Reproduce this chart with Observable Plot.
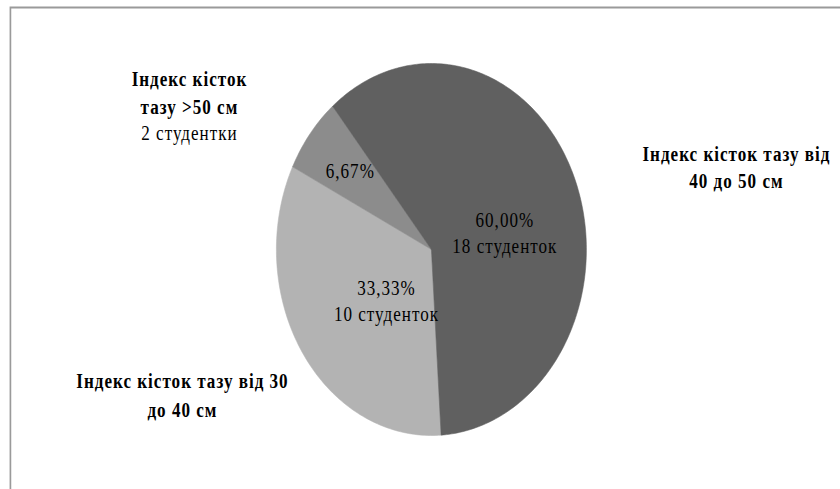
<!DOCTYPE html>
<html><head><meta charset="utf-8">
<script src="https://cdn.jsdelivr.net/npm/d3@7"></script>
<script src="https://cdn.jsdelivr.net/npm/@observablehq/plot@0.6"></script>
<style>
html,body{margin:0;padding:0;overflow:hidden;background:#fff;}
#chart{width:840px;height:489px;overflow:hidden;}
#chart svg{transform:scaleX(0.8333);transform-origin:0 0;display:block;max-width:none !important;height:491px !important;width:1012px !important;}
#chart svg text{letter-spacing:1.2px;}
</style></head><body><div id="chart"></div>
<script>
// ---- data ----
const categories = ["Індекс кісток тазу від 30 до 40 см", "Індекс кісток тазу >50 см", "Індекс кісток тазу від 40 до 50 см"];
const students = [10, 2, 18];
const percentLabels = ["33,33%", "6,67%", "60,00%"];
const countLabels = ["10 студенток", "2 студентки", "18 студенток"];
const outerLines = [["Індекс кісток тазу від 30", "до 40 см"], ["Індекс кісток", "тазу >50 см"], ["Індекс кісток тазу від", "40 до 50 см"]];

// ---- layout / style (kept apart from data) ----
const palette = ["#b3b3b3", "#8c8c8c", "#606060"];
const startDeg = 176.4;
const innerPos = [[-0.29, 0.382], [-0.523, -0.382], [0.474, 0.020]];      // last-line baseline, pie units
const outerPos = [[-1.606, [0.744, 0.901]], [-1.561, [-0.878, -0.730]], [1.968, [-0.475, -0.332]]];
const countOuterPos = [-1.561, -0.590];

const total = d3.sum(students);
let acc = 0;
const slices = categories.map((c, i) => {
  const a0 = startDeg + acc / total * 360;
  acc += students[i];
  const a1 = startDeg + acc / total * 360;
  return {cat: c, a0, a1};
});
const pts = [];
for (const s of slices) {
  pts.push({cat: s.cat, x: 0, y: 0});
  const n = Math.max(2, Math.ceil(s.a1 - s.a0));
  for (let k = 0; k <= n; k++) {
    const a = (s.a0 + (s.a1 - s.a0) * k / n) * Math.PI / 180;
    pts.push({cat: s.cat, x: Math.sin(a), y: -Math.cos(a)});
  }
  pts.push({cat: s.cat, x: 0, y: 0});
}

const inner = categories.map((c, i) => ({
  text: i === 1 ? percentLabels[i] : percentLabels[i] + "\n" + countLabels[i],
  x: innerPos[i][0], y: innerPos[i][1]
}));
const outer = [];
outerLines.forEach((lines, i) => lines.forEach((t, j) => outer.push({text: t, x: outerPos[i][0], y: outerPos[i][1][j]})));
const outerCount = [{text: countLabels[1], x: countOuterPos[0], y: countOuterPos[1]}];

const font = "'Liberation Serif', 'Times New Roman', serif";
const plot = Plot.plot({
  width: 1012, height: 491,
  marginTop: 7, marginLeft: 12, marginRight: 0, marginBottom: 0,
  x: {domain: [-1, 1], range: [331.2, 703.2], axis: null},
  y: {domain: [-1, 1], range: [63, 435], axis: null},
  color: {type: "ordinal", domain: categories, range: palette},
  style: {background: "#fff", fontFamily: font, maxWidth: "none"},
  marks: [
    Plot.frame({stroke: "#9a9a9a", strokeWidth: 2}),
    Plot.line(pts, {x: "x", y: "y", z: "cat", fill: "cat", stroke: "cat", strokeWidth: 0.6, curve: "linear"}),
    Plot.text(inner, {x: "x", y: "y", text: "text", textAnchor: "middle", lineAnchor: "bottom", lineHeight: 1.27, fontSize: 20.5, fill: "#000", fontFamily: font}),
    Plot.text(outer, {x: "x", y: "y", text: "text", textAnchor: "middle", lineAnchor: "bottom", fontSize: 20.5, fontWeight: "bold", fill: "#000", fontFamily: font}),
    Plot.text(outerCount, {x: "x", y: "y", text: "text", textAnchor: "middle", lineAnchor: "bottom", fontSize: 20.5, fill: "#000", fontFamily: font})
  ]
});
plot.style.maxWidth = "none";
document.getElementById("chart").appendChild(plot);
</script></body></html>
